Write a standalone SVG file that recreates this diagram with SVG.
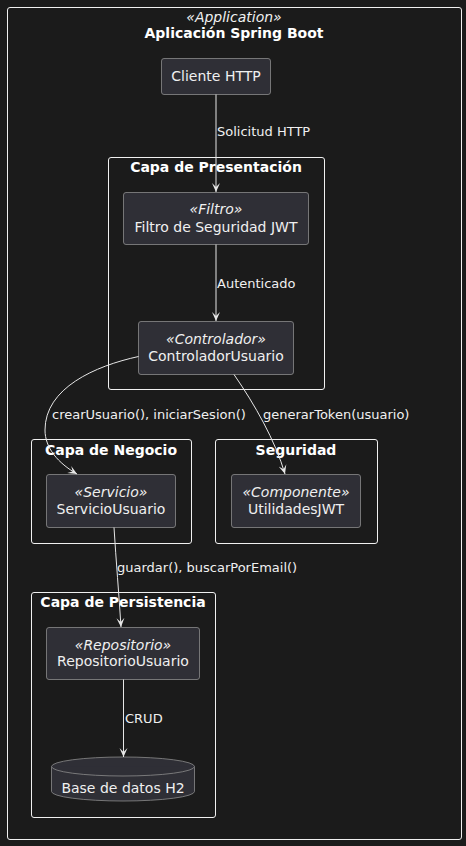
<svg xmlns="http://www.w3.org/2000/svg" width="466" height="846" viewBox="0 0 466 846">
<style>
.bg{fill:#1b1b1b}
.frame{fill:none;stroke:#f0f0f0;stroke-width:1}
.node{fill:#2f2f36;stroke:#8c8c8c;stroke-width:0.8}
.t{font-family:"DejaVu Sans",sans-serif;font-size:14px;fill:#f0f0f0;text-anchor:middle}
.st{font-family:"DejaVu Sans",sans-serif;font-size:14px;font-style:italic;fill:#f0f0f0;text-anchor:middle}
.b{font-family:"DejaVu Sans",sans-serif;font-size:14px;font-weight:bold;fill:#ffffff;text-anchor:middle}
.lbl{font-family:"DejaVu Sans",sans-serif;font-size:13px;fill:#f0f0f0}
.e{fill:none;stroke:#e6e6e6;stroke-width:1}
</style>
<defs>
<marker id="arr" viewBox="0 0 10 10" refX="9" refY="5" markerWidth="10" markerHeight="10" markerUnits="userSpaceOnUse" orient="auto">
<path d="M0,1 L9,5 L0,9 L4,5 Z" fill="#e6e6e6"/>
</marker>
</defs>
<rect class="bg" x="0" y="0" width="466" height="846"/>
<g id="app">
<rect class="frame" x="7.5" y="7.5" width="454" height="832" rx="2.5"/>
<text class="st" x="234" y="22">«Application»</text>
<text class="b" x="234" y="38">Aplicación Spring Boot</text>
</g>
<g id="capa-presentacion">
<rect class="frame" x="108.5" y="157.5" width="216" height="232" rx="2.5"/>
<text class="b" x="216" y="172">Capa de Presentación</text>
</g>
<g id="capa-negocio">
<rect class="frame" x="31.5" y="439.5" width="160" height="104" rx="2.5"/>
<text class="b" x="111" y="455">Capa de Negocio</text>
</g>
<g id="seguridad">
<rect class="frame" x="215.5" y="439.5" width="162" height="104" rx="2.5"/>
<text class="b" x="296" y="455">Seguridad</text>
</g>
<g id="capa-persistencia">
<rect class="frame" x="31.5" y="592.5" width="184" height="225" rx="2.5"/>
<text class="b" x="123" y="607">Capa de Persistencia</text>
</g>
<g id="cliente-http">
<rect class="node" x="161.5" y="58.5" width="109" height="36" rx="2.5"/>
<text class="t" x="216" y="81">Cliente HTTP</text>
</g>
<g id="filtro">
<rect class="node" x="123.5" y="192.5" width="185" height="52" rx="2.5"/>
<text class="st" x="216" y="214">«Filtro»</text>
<text class="t" x="216" y="232">Filtro de Seguridad JWT</text>
</g>
<g id="controlador">
<rect class="node" x="138.5" y="321.5" width="155" height="53" rx="2.5"/>
<text class="st" x="216" y="344">«Controlador»</text>
<text class="t" x="216" y="361">ControladorUsuario</text>
</g>
<g id="servicio">
<rect class="node" x="46.5" y="474.5" width="129" height="53" rx="2.5"/>
<text class="st" x="111" y="497">«Servicio»</text>
<text class="t" x="111" y="514">ServicioUsuario</text>
</g>
<g id="utilidades">
<rect class="node" x="231.5" y="474.5" width="129" height="53" rx="2.5"/>
<text class="st" x="296" y="497">«Componente»</text>
<text class="t" x="296" y="514">UtilidadesJWT</text>
</g>
<g id="repositorio">
<rect class="node" x="46.5" y="627.5" width="153" height="52" rx="2.5"/>
<text class="st" x="123" y="650">«Repositorio»</text>
<text class="t" x="123" y="666">RepositorioUsuario</text>
</g>
<g id="base-datos">
<path class="node" d="M51.5,766.5 A71.5,9.5 0 0 1 194.5,766.5 L194.5,791.5 A71.5,9.5 0 0 1 51.5,791.5 Z"/>
<path class="node" d="M51.5,766.5 A71.5,9.5 0 0 0 194.5,766.5" fill="none"/>
<text class="t" x="123" y="793">Base de datos H2</text>
</g>
<g id="connectors">
<path class="e" d="M216,94.5 L216,192" marker-end="url(#arr)"/>
<text class="lbl" x="217" y="136">Solicitud HTTP</text>
<path class="e" d="M216,244.5 L216,321" marker-end="url(#arr)"/>
<text class="lbl" x="217" y="288">Autenticado</text>
<path class="e" d="M138.5,356.5 C95,366 45,388 45,430 C45,448 58,463 77,474" marker-end="url(#arr)"/>
<text class="lbl" x="52" y="419">crearUsuario(), iniciarSesion()</text>
<path class="e" d="M234,374.5 C255,405 275,440 285,474" marker-end="url(#arr)"/>
<text class="lbl" x="263" y="419">generarToken(usuario)</text>
<path class="e" d="M114,527.5 C116,560 119,595 121,627" marker-end="url(#arr)"/>
<text class="lbl" x="117" y="572">guardar(), buscarPorEmail()</text>
<path class="e" d="M123.5,679.5 L123.5,757" marker-end="url(#arr)"/>
<text class="lbl" x="125" y="723">CRUD</text>
</g>
</svg>
